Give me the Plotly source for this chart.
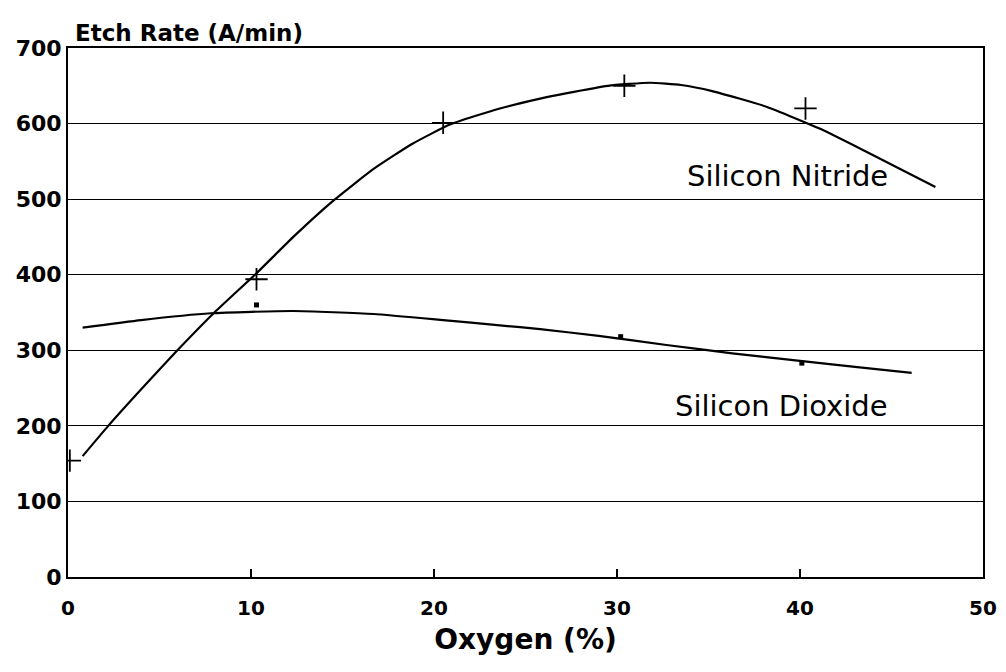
import plotly.graph_objects as go

# Measured points
nitride_x = [0.1, 10.3, 20.5, 30.4, 40.3]
nitride_y = [154, 394, 601, 650, 620]
dioxide_x = [10.3, 30.2, 40.1]
dioxide_y = [360, 318, 283]

# Fitted curves
nit_curve_x = [0.8, 2.2, 4.1, 5.9, 8.0, 10.3, 12.4, 14.5, 16.7, 18.8, 20.9, 23.6, 25.8, 27.2, 29.5, 31.8, 33.5, 35.2, 38.2, 41.1, 43.6, 47.4]
nit_curve_y = [160, 200, 251, 298, 350, 402, 452, 498, 540, 573, 599, 620, 633, 640, 650, 654, 651, 643, 622, 593, 563, 516]
dio_curve_x = [0.8, 4.0, 7.8, 12.3, 16.7, 20.5, 23.6, 25.8, 29.0, 32.7, 36.3, 40.0, 43.0, 46.1]
dio_curve_y = [330, 340, 349, 352, 348, 340, 333, 328, 319, 307, 296, 286, 278, 270]

x_ticks = [0, 10, 20, 30, 40, 50]
y_ticks = [0, 100, 200, 300, 400, 500, 600, 700]

fig = go.Figure()
fig.add_trace(go.Scatter(x=nit_curve_x, y=nit_curve_y, mode="lines",
                         line=dict(color="black", width=2.2, shape="spline", smoothing=0.5),
                         showlegend=False, hoverinfo="skip"))
fig.add_trace(go.Scatter(x=dio_curve_x, y=dio_curve_y, mode="lines",
                         line=dict(color="black", width=2.2, shape="spline", smoothing=0.5),
                         showlegend=False, hoverinfo="skip"))
fig.add_trace(go.Scatter(x=nitride_x, y=nitride_y, mode="markers",
                         marker=dict(symbol="cross-thin", size=16, line=dict(color="black", width=1.8)),
                         showlegend=False))
fig.add_trace(go.Scatter(x=dioxide_x, y=dioxide_y, mode="markers",
                         marker=dict(symbol="square", size=5, color="black"),
                         showlegend=False))

fig.add_annotation(x=39.3, y=530, xref="x", yref="y", text="Silicon Nitride", showarrow=False,
                   font=dict(family="DejaVu Sans", size=29, color="black"))
fig.add_annotation(x=39.0, y=226, xref="x", yref="y", text="Silicon Dioxide", showarrow=False,
                   font=dict(family="DejaVu Sans", size=29, color="black"))
fig.add_annotation(x=0.005, y=1.0, xref="paper", yref="paper", xanchor="left", yanchor="bottom",
                   text="<b>Etch Rate (A/min)</b>", showarrow=False,
                   font=dict(family="DejaVu Sans", size=23, color="black"))

# page body has an 8px default margin; figure sized so the plot area lands where the reference has it
fig.update_layout(
    width=998, height=664, autosize=False,
    margin=dict(l=60, r=23, t=40, b=95),
    paper_bgcolor="white", plot_bgcolor="white",
    xaxis=dict(range=[0, 50], tickvals=x_ticks, ticktext=[str(v) for v in x_ticks],
               automargin=False,
               showgrid=False, zeroline=False, showline=True, linecolor="black", linewidth=2,
               mirror=True, ticks="inside", ticklen=8, tickcolor="black", tickwidth=1.5,
               ticklabelstandoff=12,
               tickfont=dict(family="DejaVu Sans", size=20, color="black", weight="bold"),
               title=dict(text="<b>Oxygen (%)</b>", standoff=10,
                          font=dict(family="DejaVu Sans", size=28, color="black"))),
    yaxis=dict(range=[0, 700], tickvals=y_ticks, ticktext=[str(v) for v in y_ticks],
               automargin=False,
               showgrid=True, gridcolor="black", gridwidth=1.3, zeroline=False,
               showline=True, linecolor="black", linewidth=2, mirror=True,
               ticks="", ticklabelstandoff=0,
               tickfont=dict(family="DejaVu Sans", size=22, color="black", weight="bold")),
)

fig.write_html("out.html")
